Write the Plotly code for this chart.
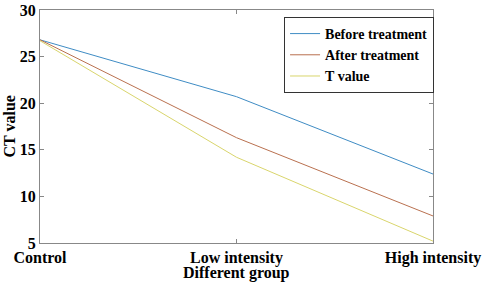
import plotly.graph_objects as go

groups = ["Control", "Low intensity", "High intensity"]
before = [26.8, 20.7, 12.4]
after = [26.8, 16.3, 7.9]
tvalue = [26.7, 14.2, 5.2]

names = ["Before treatment", "After treatment", "T value"]
colors = ["#3f8cc4", "#b9704f", "#d9d56c"]

fig = go.Figure()
for name, vals, c in zip(names, [before, after, tvalue], colors):
    fig.add_trace(go.Scatter(x=[0, 1, 2], y=vals, mode="lines", name=name,
                             line=dict(color=c, width=1)))

bold = dict(family="Liberation Serif", size=16, color="black", weight="bold")
fig.update_layout(
    width=482, height=288,
    margin=dict(l=40, r=49, t=10, b=45, autoexpand=False),
    paper_bgcolor="white", plot_bgcolor="white",
    font=bold,
    showlegend=True,
    legend=dict(x=0.621, y=0.97, xanchor="left", yanchor="top",
                bgcolor="white", bordercolor="#333", borderwidth=1,
                font=dict(family="Liberation Serif", size=14, color="black", weight="bold"),
                tracegroupgap=0, itemwidth=30),
    annotations=[
        dict(text="Different group", xref="paper", yref="paper", x=0.5, y=0,
             yshift=-30, xanchor="center", yanchor="middle", showarrow=False, font=bold),
        dict(text="CT value", xref="paper", yref="paper", x=0, y=0.5,
             xshift=-31, xanchor="center", yanchor="middle", textangle=-90,
             showarrow=False, font=bold),
    ],
)
fig.update_xaxes(
    range=[0, 2], tickmode="array", tickvals=[0, 1, 2], ticktext=groups,
    ticks="inside", ticklen=4, tickcolor="#888", showline=True, linecolor="#888",
    mirror="ticks", showgrid=False, zeroline=False, automargin=False,
    ticklabeloverflow="allow", tickfont=bold,
)
fig.update_yaxes(
    range=[5, 30], tickvals=[5, 10, 15, 20, 25, 30],
    ticks="inside", ticklen=4, tickcolor="#888", showline=True, linecolor="#888",
    mirror="ticks", showgrid=False, zeroline=False, automargin=False,
    ticklabeloverflow="allow", tickfont=bold,
)
fig.write_html("out.html", config={"displayModeBar": False},
               post_script="document.body.style.margin='0';")
